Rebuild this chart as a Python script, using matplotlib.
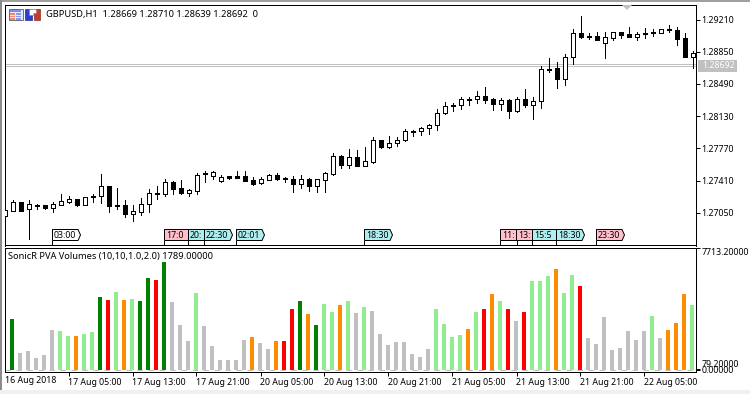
import matplotlib
matplotlib.use("Agg")
import matplotlib.pyplot as plt
import numpy as np
from matplotlib.patches import Polygon, Rectangle
from matplotlib.transforms import Affine2D

plt.rcParams['font.family'] = ['Noto Sans', 'DejaVu Sans']

# Prices in points (1e-5)
opens = [127017,127073,127173,127098,127140,127132,127109,127143,127176,127203,127143,127226,127237,127352,127125,127136,127042,127061,127147,127262,127255,127396,127326,127277,127299,127482,127467,127407,127460,127463,127463,
         127415,127382,127422,127471,127426,127430,127377,127426,127355,127422,127489,127683,127589,127672,127578,127623,127862,127790,127835,127862,127966,127962,128002,128036,128163,128245,128252,128312,128319,128353,128319,
         128270,128312,128192,128323,128256,128297,128647,128669,128549,128788,129056,129015,129023,128951,129007,129067,129048,129018,129048,129056,129063,129093,129093,129004,128795]
highs = [127084,127188,127173,127195,127151,127136,127173,127259,127240,127210,127226,127255,127486,127352,127329,127195,127143,127214,127315,127352,127426,127411,127415,127318,127500,127522,127516,127471,127460,127516,127522,
         127452,127449,127486,127497,127452,127460,127471,127441,127433,127508,127717,127698,127761,127754,127784,127895,127862,127910,127895,127985,127977,128010,128040,128208,128286,128275,128342,128342,128409,128457,128337,
         128331,128323,128349,128434,128342,128691,128781,128736,128825,129104,129249,129060,129067,129067,129067,129067,129123,129067,129115,129108,129101,129149,129123,129056,128855]
lows = [127017,127069,127076,126757,127098,127098,127061,127132,127165,127121,127143,127176,127165,127054,127098,127009,126964,127031,127061,127210,127240,127255,127255,127243,127266,127396,127433,127389,127426,127444,127411,
        127363,127374,127415,127422,127400,127285,127333,127299,127285,127285,127478,127556,127556,127578,127578,127612,127779,127779,127802,127857,127913,127924,127936,127977,128159,128192,128215,128256,128282,128282,128203,
        128200,128114,128181,128237,128103,128226,128621,128449,128482,128717,129000,128993,128985,128784,128982,129000,129018,128982,129007,129026,129056,129071,128926,128795,128669]
closes = [127084,127173,127076,127151,127121,127109,127151,127181,127210,127140,127226,127237,127348,127128,127136,127042,127069,127151,127270,127274,127393,127321,127270,127304,127474,127493,127505,127449,127441,127444,127411,
          127374,127426,127471,127430,127438,127377,127426,127355,127426,127493,127683,127589,127672,127578,127627,127862,127790,127835,127862,127962,127951,128002,128036,128163,128241,128256,128319,128323,128353,128312,128270,
          128312,128192,128319,128256,128297,128654,128658,128549,128788,129056,129018,129029,128985,129012,129067,129041,129018,129045,129060,129067,129101,129104,128996,128795,128836]
price_ticks = [1.29210, 1.28850, 1.28490, 1.28130, 1.27770, 1.27410, 1.27050]
last_price = 1.28688
ask_price = 1.28710
last_label = "1.28692"

volumes = [2613,3245,1096,1222,780,969,2549,2486,2170,2170,2297,2423,4635,4446,4951,4446,4509,4383,5836,5710,6827,4319,2866,1854,4888,2802,1538,653,653,653,1917,
           2107,1728,1348,1854,1854,3877,4383,3561,2866,4193,3687,4130,4383,3624,4003,3750,2297,1601,1791,1791,1032,843,1348,3877,2929,2107,2233,2613,3687,3877,4825,
           4383,3877,3118,3687,5647,5647,5963,6405,4888,6026,5331,2044,1665,3371,1285,1412,2486,1917,2486,3434,2044,2549,2992,4825,4130]
volume_classes = list("SG" "SSSSS" "LL" "O" "LL" "G" "R" "L" "O" "L" "GG" "R" "G" "SSS" "L" "SSSSSS" "O" "SS" "O" "RR" "G" "O" "G"
                      "LL" "O" "L" "S" "L" "SSSSSSSS" "LLLL" "O" "L" "R" "O" "L" "R" "S" "R" "LLL" "O" "LL" "R" "SSSSSSSS" "L" "S" "OOO" "L")
class_colors = {"S": "#C0C0C0", "G": "#008000", "L": "#90EE90", "O": "#FF8C00", "R": "#FF0000"}

time_tick_bars = [8, 16, 24, 32, 40, 48, 56, 64, 72, 80]
time_labels = ["17 Aug 05:00", "17 Aug 13:00", "17 Aug 21:00", "20 Aug 05:00", "20 Aug 13:00",
               "20 Aug 21:00", "21 Aug 05:00", "21 Aug 13:00", "21 Aug 21:00", "22 Aug 05:00"]

event_bars = [6, 20, 23, 25, 29, 45, 62, 64, 66, 69, 74]
event_times = ["03:00", "17:0", "20:", "22:30", "02:01", "18:30", "11:", "13:", "15:5", "18:30", "23:30"]
event_colors = ["#FFFFFF", "#FFC0CB", "#AFEEEE", "#AFEEEE", "#AFEEEE", "#AFEEEE", "#FFC0CB", "#FFC0CB", "#AFEEEE", "#AFEEEE", "#FFC0CB"]

title_main = "GBPUSD,H1  1.28669 1.28710 1.28639 1.28692  0"
title_sub = "SonicR PVA Volumes (10,10,1.0,2.0) 1789.00000"

W, H = 750, 394
FS = 6.35
FS_TITLE = 6.68
fig = plt.figure(figsize=(W / 100, H / 100), dpi=100, facecolor="white")
PX = Affine2D().scale(1, -1).translate(0, H)   # reference pixel coordinates


def axes_at(left, top, right, bottom):
    return fig.add_axes([left / W, 1 - bottom / H, (right - left) / W, (bottom - top) / H])


# window frame
fig.add_artist(Rectangle((0, 0), W, 1.5, transform=PX, fc="#A0A0A0", ec="none"))
fig.add_artist(Rectangle((0, 0), 2, H, transform=PX, fc="#8C8C8C", ec="none"))
fig.add_artist(Rectangle((0, 390), W, 4, transform=PX, fc="#F0F0F0", ec="none"))

ax = axes_at(4.5, 4.5, 695.5, 245.5)
vx = axes_at(4.5, 247.5, 695.5, 371.5)
idx = np.arange(len(opens))
xlim = (0, 691 / 8)

# ---- candles
o, h, l, c = [np.array(a) / 1e5 for a in (opens, highs, lows, closes)]
ax.set_xlim(*xlim)
ax.set_ylim(1.26685, 1.29378)
ax.axhline(last_price, color="#C0C0C0", lw=0.72, zorder=1)
ax.axhline(ask_price, color="#C0C0C0", lw=0.72, zorder=1)
wick = ax.vlines(idx + 0.02, l, h, color="black", lw=0.72, zorder=2)
wick.set_antialiased(False)
body_bottom = np.minimum(o, c)
body_height = np.abs(c - o)
face = ["white" if ci >= oi else "black" for oi, ci in zip(o, c)]
ax.bar(idx + 0.02, body_height, 0.5, bottom=body_bottom, color=face, edgecolor="black",
       linewidth=0.72, zorder=3, antialiased=False)
ax.yaxis.tick_right()
ax.set_yticks(price_ticks, [f"{t:.5f}" for t in price_ticks])
ax.set_xticks([])
ax.tick_params(axis="y", length=2.88, width=0.72, pad=1.6, labelsize=FS, color="black")

# ---- event flags
for n, (b, t, col) in enumerate(zip(event_bars, event_times, event_colors)):
    x0 = ax.transData.transform((b, 0))[0]
    pts = [(x0, 229.5), (x0 + 25.5, 229.5), (x0 + 28, 235), (x0 + 25.5, 240.5), (x0, 240.5)]
    ax.add_patch(Polygon(pts, closed=True, fc=col, ec="black", lw=0.72, transform=PX,
                         zorder=10 + 2 * n, clip_on=False))
    ax.plot([x0, x0], [240.5, 245.5], color="black", lw=0.72, transform=PX, zorder=10 + 2 * n)
    ax.text(x0 + 1.6, 235, t, transform=PX, fontsize=FS, va="center", ha="left",
            zorder=11 + 2 * n, color="black")

# ---- last price tag
fig.add_artist(Rectangle((698, 59.5), 39, 12, transform=PX, fc="#C0C0C0", ec="none", zorder=5))
fig.text(702 / W, 1 - 65.8 / H, last_label, color="white", fontsize=FS, va="center", ha="left", zorder=6)

# ---- gray shift marker
fig.add_artist(Polygon([(622, 5), (632, 5), (627, 10)], closed=True, transform=PX, fc="#C0C0C0", ec="none", zorder=6))

# ---- header
fig.text(45.5 / W, 1 - 14.5 / H, title_main, fontsize=FS_TITLE, va="center", ha="left", color="black")

# icon 1: table
fig.add_artist(Rectangle((8.5, 8.5), 14, 11.5, transform=PX, fc="#E8E8F4", ec="#6E7080", lw=0.72))
fig.add_artist(Rectangle((10, 10), 11, 2, transform=PX, fc="#7F8CEB", ec="none"))
for yy in (13, 15.5, 18):
    fig.add_artist(Rectangle((10, yy), 5, 1.5, transform=PX, fc="#F08878", ec="none"))
    fig.add_artist(Rectangle((16, yy), 5, 1.5, transform=PX, fc="#8A96EE", ec="none"))
# icon 2: folders
fig.add_artist(Rectangle((25, 9), 6.5, 11, transform=PX, fc="#2B3FD0", ec="#202A90", lw=0.5))
fig.add_artist(Rectangle((33.5, 9), 6.5, 11, transform=PX, fc="#C83A30", ec="#8A2A22", lw=0.5))
fig.add_artist(Polygon([(29, 9), (36, 9), (36, 13), (33, 13), (33, 15), (29, 15)], closed=True, transform=PX,
                       fc="white", ec="#808080", lw=0.4))

# ---- volumes
bar_colors = [class_colors[k] for k in volume_classes]
vx.set_xlim(*xlim)
vx.set_ylim(-95, 7744)
vx.plot(xlim, [0, 0], color="#C0C0C0", lw=0.72, ls=(0, (5.5, 5.5)), zorder=1)
vx.bar(idx - 0.06, volumes, 0.5, color=bar_colors, zorder=2, antialiased=False, linewidth=0)
vx.yaxis.tick_right()
vx.set_yticks([7713.2, 79.2, 0.0], ["7713.20000", "79.20000", "0.00000"])
labs = vx.get_yticklabels()
labs[0].set_va("top")
labs[1].set_va("bottom")
vx.tick_params(axis="y", length=2.88, width=0.72, pad=1.2, labelsize=FS)
fig.text(7.5 / W, 1 - 256.7 / H, title_sub, fontsize=FS_TITLE, va="center", ha="left", color="black")

vx.set_xticks(time_tick_bars, time_labels, ha="left")
vx.tick_params(axis="x", length=2.88, width=0.72, pad=2.0, labelsize=FS, direction="out")
fig.text(5 / W, 1 - 380.7 / H, "16 Aug 2018", fontsize=FS, va="center", ha="left", color="black")

for a in (ax, vx):
    for s in a.spines.values():
        s.set_linewidth(0.72)
        s.set_color("black")

fig.savefig("out.png", dpi=100, facecolor="white")
